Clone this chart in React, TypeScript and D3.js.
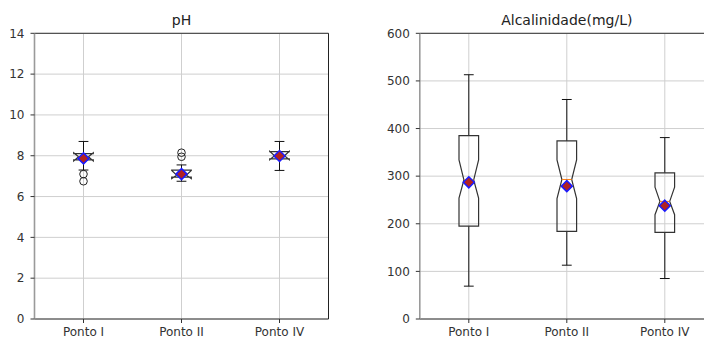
import React from "react";
import * as d3 from "d3";

const categories = ["Ponto I", "Ponto II", "Ponto IV"];

// pH
const phWhiskerLow = [7.3, 6.75, 7.28];
const phQ1 = [7.8, 6.95, 7.85];
const phMedian = [7.95, 7.05, 8.0];
const phQ3 = [8.1, 7.3, 8.2];
const phWhiskerHigh = [8.7, 7.55, 8.7];
const phNotchLow = [7.75, 6.88, 7.8];
const phNotchHigh = [8.15, 7.28, 8.22];
const phMean = [7.87, 7.1, 7.99];
const phOutliers = [[7.1, 6.75], [8.15, 7.95], []];
const phTicks = [0, 2, 4, 6, 8, 10, 12, 14];

// Alcalinidade
const alkWhiskerLow = [69, 113, 85];
const alkQ1 = [195, 184, 182];
const alkMedian = [292, 293, 247];
const alkQ3 = [385, 374, 307];
const alkWhiskerHigh = [513, 461, 381];
const alkNotchLow = [254, 253, 219];
const alkNotchHigh = [334, 334, 277];
const alkMean = [287, 279, 238];
const alkOutliers: number[][] = [[], [], []];
const alkTicks = [0, 100, 200, 300, 400, 500, 600];

const FONT = "DejaVu Sans, sans-serif";

type PanelProps = {
  x0: number;
  title: string;
  yMax: number;
  ticks: number[];
  wl: number[];
  q1: number[];
  med: number[];
  q3: number[];
  wh: number[];
  nl: number[];
  nh: number[];
  mean: number[];
  outliers: number[][];
};

function Panel(p: PanelProps) {
  const top = 33.3;
  const bottom = 319;
  const width = 294;
  const x = d3.scaleLinear().domain([0.5, 3.5]).range([p.x0, p.x0 + width]);
  const y = d3.scaleLinear().domain([0, p.yMax]).range([bottom, top]);
  const boxW = 0.2;
  const capW = 0.1;
  const right = p.x0 + width;
  return (
    <g>
      {p.ticks.map((t) => (
        <line key={"gy" + t} x1={p.x0} x2={right} y1={y(t)} y2={y(t)} stroke="#cfcfcf" strokeWidth={1} />
      ))}
      {categories.map((c, i) => (
        <line key={"gx" + c} x1={x(i + 1)} x2={x(i + 1)} y1={top} y2={bottom} stroke="#cfcfcf" strokeWidth={1} />
      ))}
      <line x1={p.x0} x2={right} y1={top} y2={top} stroke="#333" strokeWidth={1} />
      <line x1={p.x0} x2={right} y1={bottom} y2={bottom} stroke="#333" strokeWidth={1} />
      <line x1={right} x2={right} y1={top} y2={bottom} stroke="#222" strokeWidth={1} />
      <line x1={p.x0} x2={p.x0} y1={top} y2={bottom} stroke="#9a9a9a" strokeWidth={1.6} />
      {p.ticks.map((t) => (
        <g key={"ty" + t}>
          <line x1={p.x0 - 4} x2={p.x0} y1={y(t)} y2={y(t)} stroke="#333" strokeWidth={1} />
          <text x={p.x0 - 10} y={y(t)} dy="0.35em" textAnchor="end" fontSize={12} fontFamily={FONT} fill="#333">
            {t}
          </text>
        </g>
      ))}
      {categories.map((c, i) => (
        <g key={"tx" + c}>
          <line x1={x(i + 1)} x2={x(i + 1)} y1={bottom} y2={bottom + 4} stroke="#333" strokeWidth={1} />
          <text x={x(i + 1)} y={bottom + 17} textAnchor="middle" fontSize={12} fontFamily={FONT} fill="#333">
            {c}
          </text>
        </g>
      ))}
      <text x={(p.x0 + right) / 2} y={25} textAnchor="middle" fontSize={14} fontFamily={FONT} fill="#222">
        {p.title}
      </text>
      {categories.map((c, i) => {
        const cx = i + 1;
        const l = cx - boxW / 2;
        const r = cx + boxW / 2;
        const il = cx - boxW / 4;
        const ir = cx + boxW / 4;
        const pts: [number, number][] = [
          [l, p.q1[i]],
          [r, p.q1[i]],
          [r, p.nl[i]],
          [ir, p.med[i]],
          [r, p.nh[i]],
          [r, p.q3[i]],
          [l, p.q3[i]],
          [l, p.nh[i]],
          [il, p.med[i]],
          [l, p.nl[i]],
        ];
        const path = d3.line<[number, number]>().x((d) => x(d[0])).y((d) => y(d[1]))(pts) + "Z";
        const mx = x(cx);
        const my = y(p.mean[i]);
        const dm = 5.5;
        return (
          <g key={"b" + c}>
            <line x1={mx} x2={mx} y1={y(p.q1[i])} y2={y(p.wl[i])} stroke="#111" strokeWidth={1} />
            <line x1={mx} x2={mx} y1={y(p.q3[i])} y2={y(p.wh[i])} stroke="#111" strokeWidth={1} />
            <line x1={x(cx - capW / 2)} x2={x(cx + capW / 2)} y1={y(p.wl[i])} y2={y(p.wl[i])} stroke="#111" strokeWidth={1} />
            <line x1={x(cx - capW / 2)} x2={x(cx + capW / 2)} y1={y(p.wh[i])} y2={y(p.wh[i])} stroke="#111" strokeWidth={1} />
            <path d={path} fill="none" stroke="#333" strokeWidth={1.2} strokeLinejoin="miter" />
            <line x1={x(il)} x2={x(ir)} y1={y(p.med[i])} y2={y(p.med[i])} stroke="#ff7f0e" strokeWidth={1} />
            {p.outliers[i].map((o, k) => (
              <circle key={k} cx={mx} cy={y(o)} r={3.8} fill="none" stroke="#222" strokeWidth={1} />
            ))}
            <path
              d={`M${mx},${my - dm}L${mx + dm},${my}L${mx},${my + dm}L${mx - dm},${my}Z`}
              fill="#b22222"
              stroke="#1a1aff"
              strokeWidth={1.5}
            />
          </g>
        );
      })}
    </g>
  );
}

export default function App() {
  return (
    <svg width={704} height={339} style={{ position: "absolute", left: 0, top: 0, background: "#fff" }}>
      <rect x={0} y={0} width={704} height={339} fill="#fff" />
      <Panel
        x0={34.5}
        title="pH"
        yMax={14}
        ticks={phTicks}
        wl={phWhiskerLow}
        q1={phQ1}
        med={phMedian}
        q3={phQ3}
        wh={phWhiskerHigh}
        nl={phNotchLow}
        nh={phNotchHigh}
        mean={phMean}
        outliers={phOutliers}
      />
      <Panel
        x0={419.8}
        title="Alcalinidade(mg/L)"
        yMax={600}
        ticks={alkTicks}
        wl={alkWhiskerLow}
        q1={alkQ1}
        med={alkMedian}
        q3={alkQ3}
        wh={alkWhiskerHigh}
        nl={alkNotchLow}
        nh={alkNotchHigh}
        mean={alkMean}
        outliers={alkOutliers}
      />
    </svg>
  );
}
